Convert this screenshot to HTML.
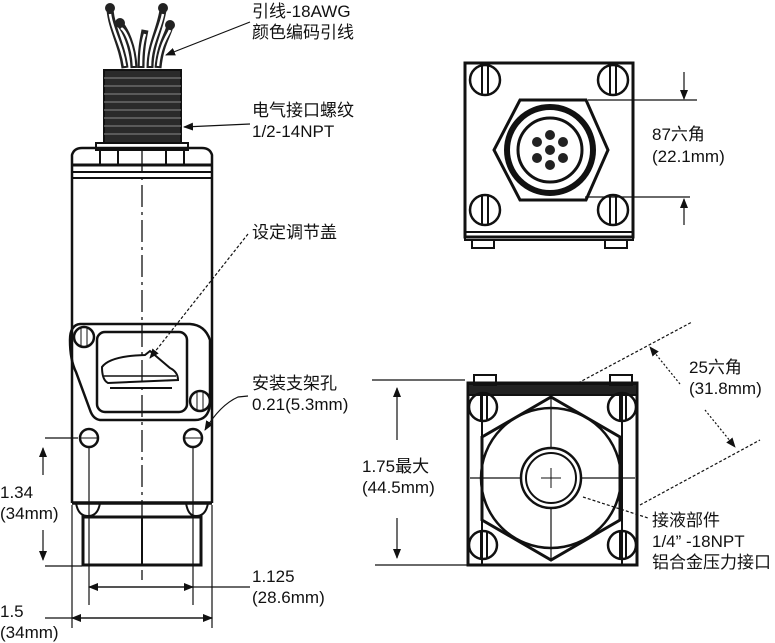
<!DOCTYPE html>
<html><head><meta charset="utf-8"><style>
html,body{margin:0;padding:0;background:#fff;}
svg{display:block;}
text{font-family:"Liberation Sans","Noto Sans CJK SC",sans-serif;font-size:17px;fill:#111;}
</style></head><body>
<svg width="775" height="643" viewBox="0 0 775 643" xmlns="http://www.w3.org/2000/svg">
<defs>
<marker id="ar" markerWidth="10" markerHeight="10" refX="9" refY="5" orient="auto" markerUnits="userSpaceOnUse"><path d="M0,1 L10,5 L0,9 Z" fill="#111"/></marker>
</defs>
<g stroke="#111" fill="none">
<!-- wires -->
<g stroke-width="7" stroke="#222">
<path d="M125,68 C122,45 112,30 110,10"/><path d="M134,68 C133,45 125,30 120,24"/>
<path d="M150,68 C150,45 160,30 163,10"/><path d="M158,68 C160,45 168,35 170,26"/>
<path d="M141,68 C141,50 143,40 145,30"/>
</g>
<g stroke-width="2.5" stroke="#fff">
<path d="M125,66 C122,45 112,30 110,14"/><path d="M134,66 C133,45 125,30 121,28"/>
<path d="M150,66 C150,45 160,30 163,14"/><path d="M158,66 C160,45 168,35 170,30"/>
<path d="M141,66 C141,50 143,40 145,34"/>
</g>
<g fill="#222" stroke="none"><circle cx="110" cy="8" r="5"/><circle cx="120" cy="23" r="5"/><circle cx="163" cy="8" r="5"/><circle cx="170" cy="25" r="5"/></g>
<!-- thread -->
<rect x="104" y="70" width="77" height="73" fill="#2a2a2a" stroke="#111" stroke-width="2"/>
<g stroke="#777" stroke-width="1.2">
<line x1="104" y1="78" x2="181" y2="78"/><line x1="104" y1="86" x2="181" y2="86"/><line x1="104" y1="94" x2="181" y2="94"/><line x1="104" y1="102" x2="181" y2="102"/><line x1="104" y1="110" x2="181" y2="110"/><line x1="104" y1="118" x2="181" y2="118"/><line x1="104" y1="126" x2="181" y2="126"/><line x1="104" y1="134" x2="181" y2="134"/>
</g>
<!-- collar -->
<path d="M96,143 L188,143 L188,150 L96,150 Z" stroke-width="2"/>
<path d="M72,165 L72,155 Q74,148 82,148 L202,148 Q210,148 212,155 L212,165" stroke-width="2.5"/>
<line x1="72" y1="165" x2="212" y2="165" stroke-width="3"/>
<line x1="72" y1="172" x2="212" y2="172" stroke-width="2"/>
<line x1="72" y1="178" x2="212" y2="178" stroke-width="2"/>
<line x1="100" y1="150" x2="100" y2="165" stroke-width="2"/><line x1="118" y1="150" x2="118" y2="165" stroke-width="2"/>
<line x1="166" y1="150" x2="166" y2="165" stroke-width="2"/><line x1="184" y1="150" x2="184" y2="165" stroke-width="2"/>
<!-- body -->
<line x1="72" y1="165" x2="72" y2="503" stroke-width="2.5"/>
<line x1="212" y1="165" x2="212" y2="503" stroke-width="2.5"/>
<line x1="72" y1="503" x2="212" y2="503" stroke-width="3.5"/>
<path d="M76,503 Q78,516 88,516 Q98,516 100,503" stroke-width="2"/>
<path d="M186,503 Q188,516 196,516 Q206,516 208,503" stroke-width="2"/>
<rect x="83" y="517" width="118" height="48" stroke-width="3"/>
<line x1="142" y1="517" x2="142" y2="565" stroke-width="2"/>
<!-- bracket -->
<path d="M80,324 L190,324 Q205,325 210,340 L210,405 Q208,420 195,420 L100,420 Q93,419 90,410 L76,372 Q70,360 70,340 Q70,325 80,324 Z" stroke-width="2.5"/>
<rect x="97" y="332" width="90" height="80" rx="8" stroke-width="2.5"/>
<path d="M102,367 Q110,356 145,355 L150,351 L170,368 Q178,372 178,380 L108,383 Q102,380 102,367 Z" stroke-width="2"/>
<line x1="104" y1="376" x2="176" y2="376" stroke-width="1.5"/>
<line x1="110" y1="388" x2="172" y2="388" stroke-width="2"/>
<circle cx="84" cy="337" r="10" stroke-width="2.5"/><line x1="81" y1="328" x2="81" y2="346"/><line x1="87" y1="328" x2="87" y2="346"/>
<circle cx="200" cy="401" r="10" stroke-width="2.5"/><line x1="197" y1="392" x2="197" y2="410"/><line x1="203" y1="392" x2="203" y2="410"/>
<circle cx="89" cy="438" r="9" stroke-width="2.5"/><line x1="80" y1="438" x2="98" y2="438"/>
<circle cx="193" cy="438" r="9" stroke-width="2.5"/><line x1="184" y1="438" x2="202" y2="438"/>
<!-- centerline -->
<line x1="142" y1="150" x2="142" y2="580" stroke-width="1.3" stroke-dasharray="22,5,3,5"/>
<!-- dimension lines left -->
<g stroke-width="1.2">
<line x1="89" y1="447" x2="89" y2="605"/><line x1="193" y1="447" x2="193" y2="605"/>
<line x1="72" y1="505" x2="72" y2="628"/><line x1="212" y1="505" x2="212" y2="628"/>
<line x1="89" y1="587" x2="193" y2="587" marker-end="url(#ar)"/><line x1="193" y1="587" x2="89" y2="587" marker-end="url(#ar)"/>
<line x1="193" y1="587" x2="250" y2="587"/>
<line x1="72" y1="618" x2="212" y2="618" marker-end="url(#ar)"/><line x1="212" y1="618" x2="72" y2="618" marker-end="url(#ar)"/>
<line x1="45" y1="618" x2="72" y2="618"/>
<line x1="45" y1="438" x2="78" y2="438"/><line x1="45" y1="566" x2="82" y2="566"/>
<line x1="43" y1="475" x2="43" y2="448" marker-end="url(#ar)"/>
<line x1="43" y1="530" x2="43" y2="560" marker-end="url(#ar)"/>
</g>
<!-- leaders -->
<g stroke-width="1.2">
<line x1="250" y1="22" x2="166" y2="55" marker-end="url(#ar)"/>
<line x1="250" y1="124" x2="184" y2="127" marker-end="url(#ar)"/>
<line x1="248" y1="234" x2="150" y2="358" stroke-dasharray="3,2" marker-end="url(#ar)"/>
<path d="M248,396 L238,397 Q220,405 205,430" marker-end="url(#ar)"/>
</g>

<!-- top right view -->
<rect x="465" y="63" width="168" height="174" stroke-width="3"/>
<rect x="465" y="232" width="168" height="8" stroke-width="2"/>
<rect x="472" y="240" width="22" height="8" stroke-width="2"/><rect x="605" y="240" width="22" height="8" stroke-width="2"/>
<g stroke-width="2.5">
<circle cx="485" cy="80" r="15"/><circle cx="613" cy="80" r="15"/><circle cx="485" cy="210" r="15"/><circle cx="613" cy="210" r="15"/>
</g>
<g stroke-width="2">
<line x1="482" y1="65" x2="482" y2="95"/><line x1="488" y1="65" x2="488" y2="95"/>
<line x1="610" y1="65" x2="610" y2="95"/><line x1="616" y1="65" x2="616" y2="95"/>
<line x1="482" y1="195" x2="482" y2="225"/><line x1="488" y1="195" x2="488" y2="225"/>
<line x1="610" y1="195" x2="610" y2="225"/><line x1="616" y1="195" x2="616" y2="225"/>
</g>
<polygon points="520,100 586,100 608,150 586,200 520,200 494,150" stroke-width="3"/>
<circle cx="550" cy="150" r="43" stroke-width="6"/>
<circle cx="550" cy="150" r="32" stroke-width="3"/>
<g fill="#222" stroke="none">
<circle cx="550" cy="150" r="5"/><circle cx="550" cy="135" r="5"/><circle cx="550" cy="165" r="5"/>
<circle cx="537" cy="142" r="5"/><circle cx="563" cy="142" r="5"/><circle cx="537" cy="158" r="5"/><circle cx="563" cy="158" r="5"/>
</g>
<g stroke-width="1.2">
<line x1="588" y1="100" x2="697" y2="100"/><line x1="585" y1="197" x2="690" y2="197"/>
<line x1="684" y1="72" x2="684" y2="99" marker-end="url(#ar)"/>
<line x1="684" y1="225" x2="684" y2="199" marker-end="url(#ar)"/>
</g>

<!-- bottom right view -->
<rect x="468" y="383" width="169" height="182" stroke-width="3"/>
<rect x="468" y="384" width="169" height="11" fill="#222" stroke-width="2"/>
<rect x="474" y="375" width="22" height="10" stroke-width="2"/><rect x="610" y="375" width="22" height="10" stroke-width="2"/>
<line x1="482" y1="395" x2="482" y2="565" stroke-width="2"/><line x1="622" y1="395" x2="622" y2="565" stroke-width="2"/>
<g stroke-width="2.5">
<circle cx="483" cy="407" r="14"/><circle cx="622" cy="407" r="14"/><circle cx="483" cy="545" r="14"/><circle cx="622" cy="545" r="14"/>
</g>
<g stroke-width="2">
<line x1="481" y1="394" x2="481" y2="420"/><line x1="487" y1="394" x2="487" y2="420"/>
<line x1="620" y1="394" x2="620" y2="420"/><line x1="626" y1="394" x2="626" y2="420"/>
<line x1="481" y1="532" x2="481" y2="558"/><line x1="487" y1="532" x2="487" y2="558"/>
<line x1="620" y1="532" x2="620" y2="558"/><line x1="626" y1="532" x2="626" y2="558"/>
</g>
<polygon points="551,397 620,437 620,520 551,560 482,520 482,437" stroke-width="3"/>
<circle cx="551" cy="478" r="70" stroke-width="2.5"/>
<line x1="551" y1="397" x2="551" y2="560" stroke-width="1.2"/>
<line x1="470" y1="478" x2="635" y2="478" stroke-width="1.2"/>
<circle cx="551" cy="478" r="30" fill="#fff" stroke-width="2.5"/>
<circle cx="551" cy="478" r="25" fill="#fff" stroke-width="2"/>
<line x1="541" y1="478" x2="561" y2="478" stroke-width="1"/><line x1="551" y1="468" x2="551" y2="488" stroke-width="1"/>
<g stroke-width="1.2">
<line x1="372" y1="380" x2="465" y2="380"/><line x1="375" y1="565" x2="468" y2="565"/>
<line x1="397" y1="440" x2="397" y2="388" marker-end="url(#ar)"/>
<line x1="397" y1="518" x2="397" y2="558" marker-end="url(#ar)"/>
<line x1="578" y1="383" x2="692" y2="322" stroke-dasharray="3,2"/>
<line x1="640" y1="505" x2="760" y2="440" stroke-dasharray="3,2"/>
<line x1="680" y1="384" x2="650" y2="347" stroke-dasharray="2,2" marker-end="url(#ar)"/>
<line x1="705" y1="410" x2="735" y2="447" stroke-dasharray="2,2" marker-end="url(#ar)"/>
<line x1="583" y1="497" x2="648" y2="518" stroke-dasharray="3,2"/>
</g>
</g>

<text x="252" y="17">引线-18AWG</text>
<text x="252" y="38">颜色编码引线</text>
<text x="252" y="116">电气接口螺纹</text>
<text x="252" y="137">1/2-14NPT</text>
<text x="252" y="238">设定调节盖</text>
<text x="252" y="389">安装支架孔</text>
<text x="252" y="410">0.21(5.3mm)</text>
<text x="0" y="498">1.34</text>
<text x="0" y="519">(34mm)</text>
<text x="252" y="582">1.125</text>
<text x="252" y="603">(28.6mm)</text>
<text x="0" y="617">1.5</text>
<text x="0" y="638">(34mm)</text>
<text x="652" y="140">87六角</text>
<text x="652" y="162">(22.1mm)</text>
<text x="362" y="472">1.75最大</text>
<text x="362" y="493">(44.5mm)</text>
<text x="689" y="373">25六角</text>
<text x="689" y="394">(31.8mm)</text>
<text x="652" y="526">接液部件</text>
<text x="652" y="547">1/4”  -18NPT</text>
<text x="652" y="568">铝合金压力接口</text>
</svg>
</body></html>
